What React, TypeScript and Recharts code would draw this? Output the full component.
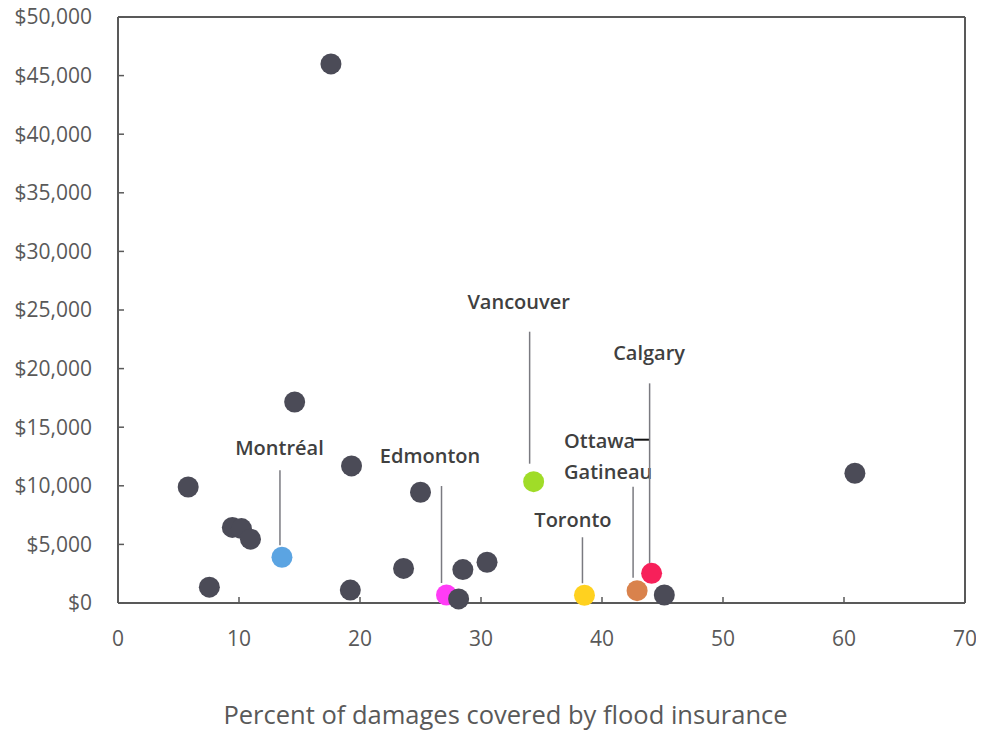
import React from 'react';
import { ScatterChart, Scatter, XAxis, YAxis, ReferenceLine, Label } from 'recharts';

// ---- data ----
const otherX = [5.8, 7.55, 9.45, 10.2, 10.95, 14.6, 17.6, 19.3, 19.2, 23.6, 25.0, 28.15, 28.5, 30.5, 45.15, 60.9];
const otherY = [9900, 1350, 6450, 6350, 5450, 17150, 46000, 11700, 1100, 2950, 9450, 350, 2850, 3480, 680, 11070];

const cityNames = ['Montréal', 'Edmonton', 'Vancouver', 'Toronto', 'Ottawa–Gatineau', 'Calgary'];
const cityX = [13.55, 27.15, 34.35, 38.55, 42.9, 44.1];
const cityY = [3900, 680, 10350, 660, 1050, 2530];
const cityColors = ['#5ba4e2', '#ff3cf6', '#a0dc28', '#ffd11f', '#d9824c', '#f7205a'];

const xTicks = [0, 10, 20, 30, 40, 50, 60, 70];
const yTicks = [0, 5000, 10000, 15000, 20000, 25000, 30000, 35000, 40000, 45000, 50000];

const xTitle = 'Percent of damages covered by flood insurance';

// ---- styles ----
const FONT = "'Open Sans', sans-serif";
const DARK = '#4b4b57';
const AXIS = '#595959';
const R = 10.5;

type Layout = {
  lineDx: number; lineTop: number; lineBottom: number;
  textDx: number; textDy: number[]; lines: string[];
  anchor: 'start' | 'middle' | 'end';
  dash?: { x1: number; x2: number; y: number };
};

// label layout (pixel offsets relative to each marker)
const labelLayout: Record<string, Layout> = {
  'Montréal': { lineDx: -2, lineTop: -87, lineBottom: -12, textDx: -2.5, textDy: [-102], lines: ['Montréal'], anchor: 'middle' },
  'Edmonton': { lineDx: -5, lineTop: -109, lineBottom: -12, textDx: -16.5, textDy: [-132], lines: ['Edmonton'], anchor: 'middle' },
  'Vancouver': { lineDx: -4, lineTop: -150, lineBottom: -18, textDx: -15, textDy: [-173], lines: ['Vancouver'], anchor: 'middle' },
  'Toronto': { lineDx: -2, lineTop: -58, lineBottom: -12, textDx: -11.5, textDy: [-68], lines: ['Toronto'], anchor: 'middle' },
  'Ottawa–Gatineau': { lineDx: -4, lineTop: -104, lineBottom: -13, textDx: -73, textDy: [-143, -112], lines: ['Ottawa', 'Gatineau'], anchor: 'start', dash: { x1: -3, x2: 12, y: -151 } },
  'Calgary': { lineDx: -2, lineTop: -190, lineBottom: -7, textDx: -2.5, textDy: [-213], lines: ['Calgary'], anchor: 'middle' },
};

const otherData = otherX.map((x, i) => ({ x, y: otherY[i] }));
const cityData = cityNames.map((name, i) => ({ name, x: cityX[i], y: cityY[i], color: cityColors[i] }));

const DarkDot = (p: any) => <circle cx={p.cx} cy={p.cy} r={R} fill={DARK} />;

const CityDot = (p: any) => {
  const { cx, cy, payload } = p;
  const l = labelLayout[payload.name];
  return (
    <g>
      <line x1={cx + l.lineDx} x2={cx + l.lineDx} y1={cy + l.lineTop} y2={cy + l.lineBottom} stroke="#7a7a80" strokeWidth={1.5} />
      <circle cx={cx} cy={cy} r={R} fill={payload.color} />
      {l.lines.map((t, i) => (
        <text key={i} x={cx + l.textDx} y={cy + l.textDy[i]} textAnchor={l.anchor} fontFamily={FONT} fontWeight={600} fontSize={20} fill="#404040">
          {t}
        </text>
      ))}
      {l.dash && (
        <line x1={cx + l.dash.x1} x2={cx + l.dash.x2} y1={cy + l.dash.y} y2={cy + l.dash.y} stroke="#111111" strokeWidth={2} />
      )}
    </g>
  );
};

const fmtMoney = (v: number) => '$' + v.toLocaleString('en-US');

export default function App() {
  return (
    <div style={{ margin: '-8px 0 0 -8px', width: 984, height: 732 }}>
      <ScatterChart width={984} height={732} margin={{ top: 17, right: 19, bottom: 0, left: 0 }}>
        <XAxis
          type="number"
          dataKey="x"
          domain={[0, 70]}
          ticks={xTicks}
          interval={0}
          height={129}
          tickSize={-6}
          tickMargin={34}
          axisLine={{ stroke: AXIS, strokeWidth: 2 }}
          tickLine={{ stroke: AXIS, strokeWidth: 1.5 }}
          tick={{ fontSize: 21, fill: AXIS, fontFamily: FONT }}
        >
          <Label
            content={(props: any) => {
              const vb = props.viewBox;
              return (
                <text x={vb.x + vb.width / 2 - 36} y={vb.y + vb.height - 8} textAnchor="middle" fontFamily={FONT} fontSize={25.5} fill={AXIS}>
                  {xTitle}
                </text>
              );
            }}
          />
        </XAxis>
        <YAxis
          type="number"
          dataKey="y"
          domain={[0, 50000]}
          ticks={yTicks}
          interval={0}
          width={118}
          tickSize={-6}
          tickMargin={32}
          tickFormatter={fmtMoney}
          axisLine={{ stroke: AXIS, strokeWidth: 2 }}
          tickLine={{ stroke: AXIS, strokeWidth: 1.5 }}
          tick={{ fontSize: 21, fill: AXIS, fontFamily: FONT }}
        />
        <ReferenceLine y={50000} stroke={AXIS} strokeWidth={2} />
        <ReferenceLine x={70} stroke={AXIS} strokeWidth={2} />
        <Scatter data={cityData} shape={CityDot} isAnimationActive={false} />
        <Scatter data={otherData} shape={DarkDot} isAnimationActive={false} />
      </ScatterChart>
    </div>
  );
}
